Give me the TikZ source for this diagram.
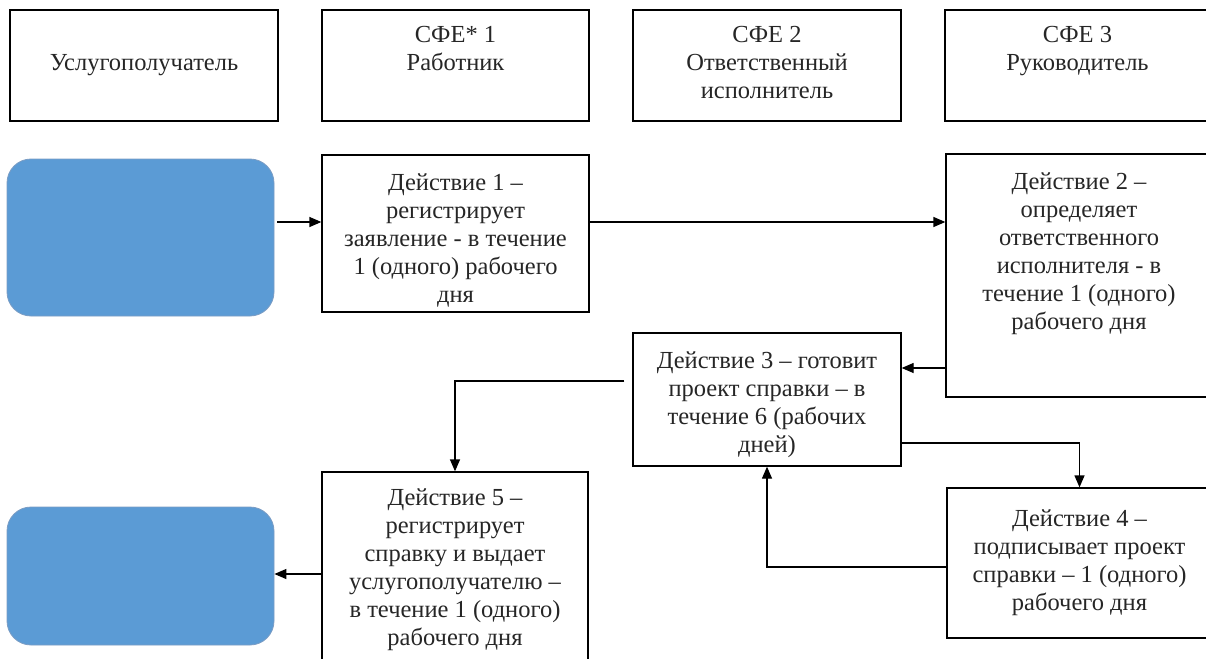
\documentclass[tikz,border=0pt]{standalone}
\usepackage{fontspec}
\setmainfont{Liberation Serif}
\usetikzlibrary{arrows.meta,positioning}
\definecolor{termblue}{HTML}{5B9BD5}
\definecolor{termedge}{HTML}{7A9CC4}
\begin{document}
\begin{tikzpicture}[x=1pt,y=-1pt,
  box/.style={draw=black,line width=1.3pt,fill=white,rectangle,inner sep=0pt},
  term/.style={draw=termedge,line width=0.8pt,fill=termblue,rectangle,rounded corners=24pt,inner sep=0pt,minimum width=267pt,minimum height=157pt},
  txt/.style={font=\fontsize{24.5pt}{28pt}\selectfont,align=center,inner sep=0pt,text=black!85},
  arr/.style={line width=1.3pt,-{Triangle[length=12pt,width=10pt]}},
  ln/.style={line width=1.3pt}]
\useasboundingbox (0,0) rectangle (1206,658);
\clip (0,0) rectangle (1206,658);
\fill[white] (0,0) rectangle (1206,658);
% headers
\node[box,minimum width=268pt,minimum height=111pt] (h1) at (144,65.5) {};
\node[box,minimum width=267pt,minimum height=111pt] (h2) at (455.5,65.5) {};
\node[box,minimum width=268pt,minimum height=111pt] (h3) at (767,65.5) {};
\node[box,minimum width=265pt,minimum height=111pt] (h4) at (1077.5,65.5) {};
\node[txt] (th1) at (h1.center) {Услугополучатель};
\node[txt,anchor=north] (th2) at ([yshift=-17pt]h2.north) {СФЕ* 1\\Работник};
\node[txt,anchor=north] (th3) at ([yshift=-17pt]h3.north) {СФЕ 2\\Ответственный\\исполнитель};
\node[txt,anchor=north] (th4) at ([yshift=-17pt]h4.north) {СФЕ 3\\Руководитель};
% terminals
\node[term] (s1) at (140.5,237.5) {};
\node[term,minimum height=138pt] (s2) at (140.5,576) {};
% action boxes
\node[box,minimum width=267pt,minimum height=157pt] (a1) at (455.5,233.5) {};
\node[box,minimum width=266pt,minimum height=243pt] (a2) at (1079,275.5) {};
\node[box,minimum width=268pt,minimum height=133pt] (a3) at (767,399.5) {};
\node[box,minimum width=265pt,minimum height=150pt] (a4) at (1079.5,563) {};
\node[box,minimum width=266pt,minimum height=196pt] (a5) at (455,570) {};
\node[txt,anchor=north] (t1) at ([yshift=-19pt]a1.north) {Действие 1 –\\регистрирует\\заявление - в течение\\1 (одного) рабочего\\дня};
\node[txt,anchor=north] (t2) at ([yshift=-19pt]a2.north) {Действие 2 –\\определяет\\ответственного\\исполнителя - в\\течение 1 (одного)\\рабочего дня};
\node[txt,anchor=north] (t3) at ([yshift=-19pt]a3.north) {Действие 3 – готовит\\проект справки – в\\течение 6 (рабочих\\дней)};
\node[txt,anchor=north] (t4) at ([yshift=-22pt]a4.north) {Действие 4 –\\подписывает проект\\справки – 1 (одного)\\рабочего дня};
\node[txt,anchor=north] (t5) at ([yshift=-17pt]a5.north) {Действие 5 –\\регистрирует\\справку и выдает\\услугополучателю –\\в течение 1 (одного)\\рабочего дня};
% connectors
\draw[arr] ([yshift=15.5pt,xshift=3pt]s1.east) -- ([yshift=11.5pt]a1.west);
\draw[arr] ([yshift=11.5pt]a1.east) -- ([yshift=11.5pt]a1.east -| a2.west);
\draw[arr] ([yshift=-92.5pt]a2.west) -- ([yshift=-92.5pt]a2.west -| a3.east);
\draw[arr] ([yshift=18.5pt,xshift=-8pt]a3.west) -| (a5.north);
\draw[arr] ([yshift=-43.5pt]a3.east) -| (a4.north);
\draw[arr] ([yshift=-4pt]a4.west) -| (a3.south);
\draw[arr] ([yshift=-4pt]a5.west) -- ([yshift=-4pt]a5.west -| s2.east);
\end{tikzpicture}
\end{document}
